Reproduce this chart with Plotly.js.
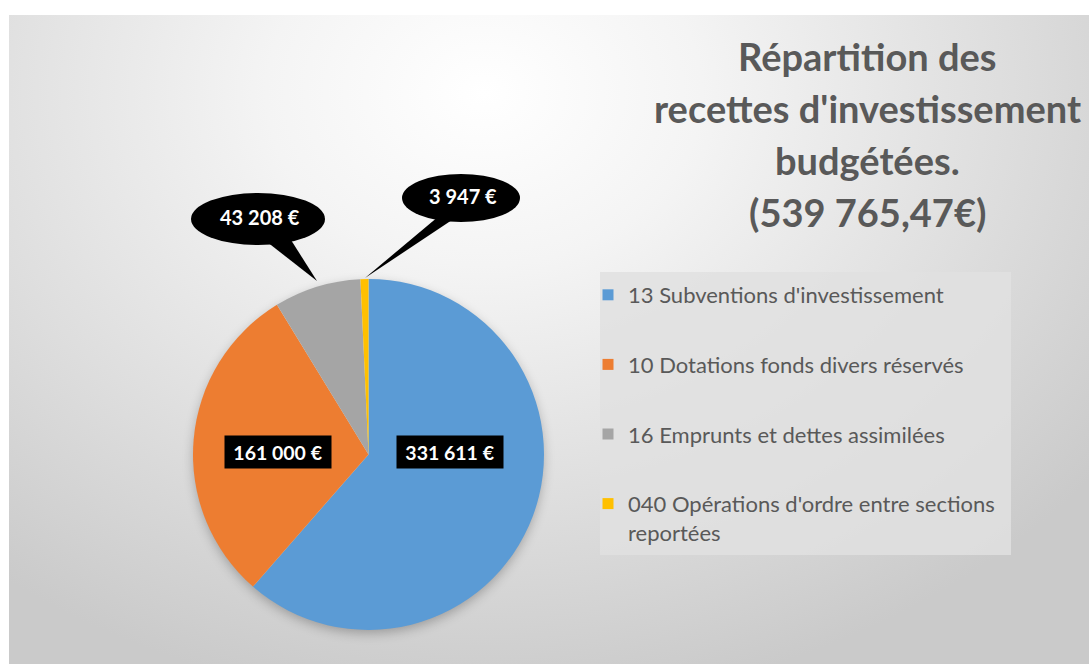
<!DOCTYPE html>
<html>
<head>
<meta charset="utf-8">
<script src="https://cdn.plot.ly/plotly-3.0.1.min.js"></script>
<style>
html, body { margin: 0; padding: 0; background: #fff; }
#bg {
  position: absolute; left: 9px; top: 15px; width: 1080px; height: 649px;
  background: radial-gradient(ellipse 72% 95% at 44% 12%, #ffffff 0%, #f4f4f4 28%, #dddddd 68%, #cacaca 100%);
}
#shadow {
  position: absolute; left: 194px; top: 280px; width: 349px; height: 349px;
  border-radius: 50%; box-shadow: 0 4px 12px rgba(0,0,0,0.28);
}
#myDiv { position: absolute; left: 0; top: 0; width: 1089px; height: 664px; }
</style>
</head>
<body>
<div id="bg"></div>
<div id="shadow"></div>
<div id="myDiv"></div>
<script>
// chart data
var categories = [
  "13 Subventions d'investissement",
  '10 Dotations fonds divers réservés',
  '16 Emprunts et dettes assimilées',
  "040 Opérations d'ordre entre sections reportées"
];
var values = [331611, 161000, 43208, 3947];
var colors = ['#5B9BD5', '#ED7D31', '#A5A5A5', '#FFC000'];
var titleLines = ['Répartition des', "recettes d'investissement", 'budgétées.', '(539 765,47€)'];

var W = 1089, H = 664;
function px(x) { return x / W; }
function py(y) { return 1 - y / H; }

function euro(v) {
  return String(v).replace(/\B(?=(\d{3})+(?!\d))/g, ' ') + ' €';
}
function wrap(s) {
  return s.replace(' sections ', ' sections<br>');
}

var pie = {
  type: 'pie',
  labels: categories,
  values: values,
  sort: false,
  direction: 'clockwise',
  rotation: 0,
  marker: {colors: colors, line: {width: 0}},
  textinfo: 'none',
  textposition: 'none',
  hoverinfo: 'skip',
  showlegend: false,
  domain: {x: [px(193), px(544)], y: [py(630), py(279)]}
};

// legend entries
var data = [pie];
categories.forEach(function (c, i) {
  data.push({
    type: 'scatter',
    x: [null], y: [null],
    mode: 'markers',
    name: wrap(c),
    legendgroup: 'g' + i,
    marker: {symbol: 'square', size: 11, color: colors[i]},
    hoverinfo: 'skip'
  });
});

var font = 'Lato, "Open Sans", sans-serif';

var annotations = titleLines.map(function (t, i) {
  return {
    text: '<b>' + t + '</b>',
    xref: 'paper', yref: 'paper',
    x: px(867), y: py(81 + i * 52),
    xanchor: 'center', yanchor: 'bottom',
    showarrow: false,
    font: {family: font, size: 38, color: '#595959'}
  };
});

// inside labels (black boxes)
var boxLabels = [
  {i: 0, x: 450, y: 452},
  {i: 1, x: 278, y: 452}
];
boxLabels.forEach(function (b) {
  annotations.push({
    text: '<b>' + euro(values[b.i]) + '</b>',
    xref: 'paper', yref: 'paper',
    x: px(b.x), y: py(b.y),
    xanchor: 'center', yanchor: 'middle',
    showarrow: false,
    bgcolor: '#000000',
    width: 104, height: 30,
    font: {family: font, size: 19.5, color: '#ffffff'}
  });
});

// callouts
var callouts = [
  {i: 2, cx: 258, cy: 219, w: 134, h: 52, tail: [[262, 238], [317, 281], [291, 240]]},
  {i: 3, cx: 461, cy: 198, w: 118, h: 48, tail: [[439, 216], [365, 278], [458, 216]]}
];
var shapes = [{
  type: 'rect', layer: 'below', xref: 'paper', yref: 'paper',
  x0: px(600), x1: px(1011), y0: py(555), y1: py(272),
  fillcolor: 'rgba(225,225,225,0.85)', line: {width: 0}
}];
callouts.forEach(function (c) {
  shapes.push({
    type: 'circle', xref: 'paper', yref: 'paper',
    x0: px(c.cx - c.w / 2), x1: px(c.cx + c.w / 2),
    y0: py(c.cy + c.h / 2), y1: py(c.cy - c.h / 2),
    fillcolor: '#000000', line: {width: 0}
  });
  var p = c.tail.map(function (q) { return px(q[0]) + ',' + py(q[1]); });
  shapes.push({
    type: 'path', xref: 'paper', yref: 'paper',
    path: 'M' + p[0] + 'L' + p[1] + 'L' + p[2] + 'Z',
    fillcolor: '#000000', line: {width: 0}
  });
  annotations.push({
    text: '<b>' + euro(values[c.i]) + '</b>',
    xref: 'paper', yref: 'paper',
    x: px(c.cx + 2), y: py(c.cy - 2),
    xanchor: 'center', yanchor: 'middle',
    showarrow: false,
    font: {family: font, size: 20, color: '#ffffff'}
  });
});

var layout = {
  width: W, height: H,
  margin: {l: 0, r: 0, t: 0, b: 0},
  paper_bgcolor: 'rgba(0,0,0,0)',
  plot_bgcolor: 'rgba(0,0,0,0)',
  xaxis: {visible: false},
  yaxis: {visible: false},
  showlegend: true,
  legend: {
    x: px(588), xanchor: 'left',
    y: py(274), yanchor: 'top',
    bgcolor: 'rgba(0,0,0,0)',
    traceorder: 'grouped',
    tracegroupgap: 38,
    valign: 'top',
    itemclick: false, itemdoubleclick: false,
    font: {family: font, size: 22, color: '#595959'}
  },
  shapes: shapes,
  annotations: annotations
};

Plotly.newPlot('myDiv', data, layout, {displayModeBar: false, staticPlot: true});
</script>
</body>
</html>
